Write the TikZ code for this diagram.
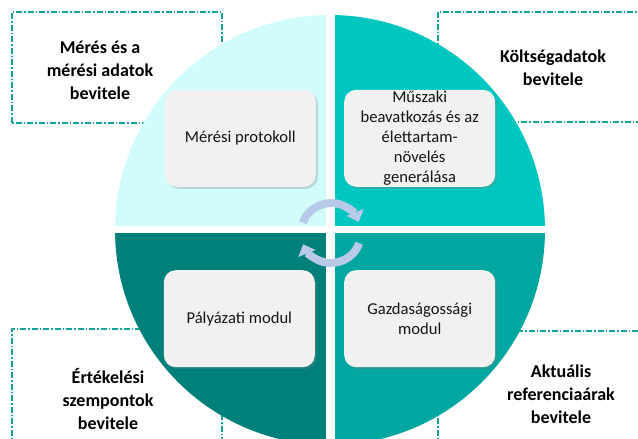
\documentclass[tikz,border=0pt]{standalone}
\usepackage{fontspec}
\setmainfont{Carlito}
\usetikzlibrary{arrows.meta,positioning,shadows}
\definecolor{qlight}{HTML}{D2FCFC}
\definecolor{qtop}{HTML}{00C6C0}
\definecolor{qmid}{HTML}{00A6A0}
\definecolor{qdark}{HTML}{00807A}
\definecolor{framecol}{HTML}{16A39C}
\definecolor{spinblue}{HTML}{B8CAE8}
\definecolor{modfill}{HTML}{F1F1F1}

\begin{document}
\begin{tikzpicture}[x=1pt, y=1pt, font=\fontsize{16.6}{20}\selectfont, node distance=40pt, module/.style={fill=modfill, rounded corners=12pt, align=center, minimum width=151pt, minimum height=97pt, inner ysep=1pt, text=black!92, drop shadow={shadow xshift=2pt, shadow yshift=-2pt, opacity=0.3}}, inframe/.style={draw=framecol, line width=1.4pt, dash pattern=on 6pt off 2pt on 1.5pt off 2pt}, inlabel/.style={align=center, font=\fontsize{18}{23}\selectfont\bfseries}, spin/.style={draw=spinblue, line width=8pt, -{Triangle[width=18pt, length=10pt]}}]
\useasboundingbox (0,0) rectangle (638,439);
\coordinate (hub) at (330,209);
\coordinate (pivot) at (331,206);
% input frames, partly hidden by the disc
\draw[inframe] (12,316) rectangle (222,427);
\draw[inframe] (438,317) rectangle (660,427);
\draw[inframe] (12,-20) rectangle (222,110);
\draw[inframe] (438,-20) rectangle (660,108);
% the four quarters
\fill[qlight] (hub) -- ++(-215,0) arc (180:90:215) -- cycle;
\fill[qtop] (hub) -- ++(0,215) arc (90:0:215) -- cycle;
\fill[qmid] (hub) -- ++(215,0) arc (0:-90:215) -- cycle;
\fill[qdark] (hub) -- ++(0,-215) arc (-90:-180:215) -- cycle;
\draw[white, line width=9pt] (hub) ++(0,217) -- ++(0,-434);
\draw[white, line width=7pt] (hub) ++(-217,0) -- ++(434,0);
\node[module, above left=43pt and 14pt of hub] (protocol) {Mérési protokoll};
\node[module, above right=43pt and 14pt of hub] (intervention) {Műszaki\\beavatkozás és az\\élettartam-\\növelés\\generálása};
\node[module, below left=40pt and 15pt of hub] (tender) {Pályázati modul};
\node[module, below right=40pt and 14pt of hub] (economy) {Gazdaságossági\\modul};
\node[inlabel] (measure) at (100,369) {Mérés és a\\mérési adatok\\bevitele};
\node[inlabel] (cost) at (553,371) {Költségadatok\\bevitele};
\node[inlabel] (criteria) at (108,40) {Értékelési\\szempontok\\bevitele};
\node[inlabel] (prices) at (561,45) {Aktuális\\referenciaárak\\bevitele};
% cycle arrows in the middle
\draw[spin] (pivot) ++(160:30) arc (160:22:30);
\draw[spin] (pivot) ++(-20:30) arc (-20:-158:30);
\end{tikzpicture}
\end{document}
